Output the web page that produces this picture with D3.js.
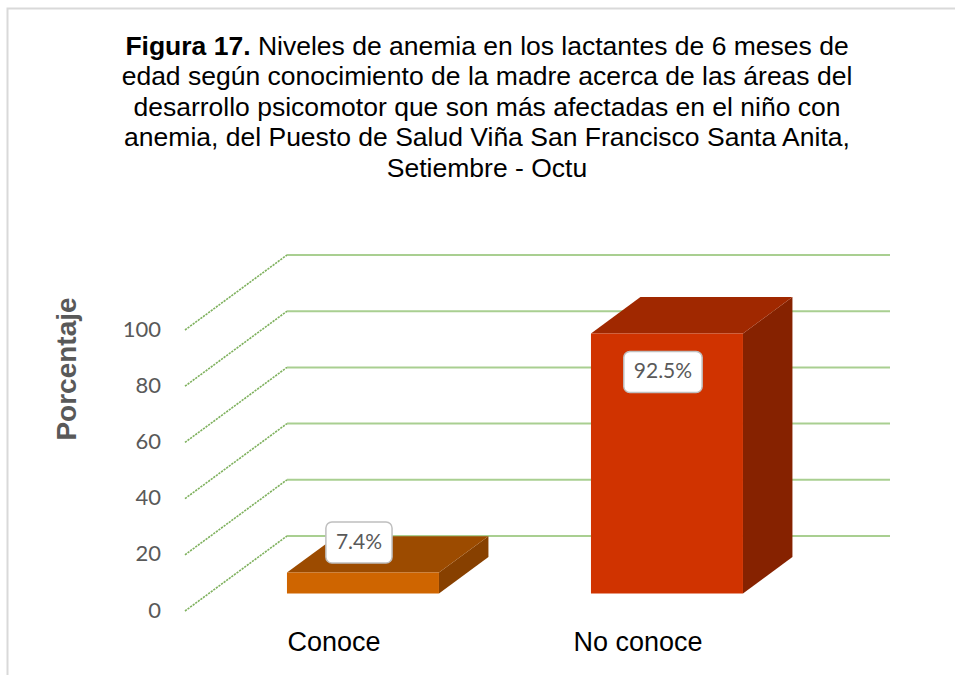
<!DOCTYPE html>
<html>
<head>
<meta charset="utf-8">
<script src="https://cdn.jsdelivr.net/npm/d3@7"></script>
<style>
  html, body { margin: 0; padding: 0; background: #fff; }
  svg { display: block; }
</style>
</head>
<body>
<svg id="chart" width="955" height="675"></svg>
<script>
// ---- data ----
const categories = ["Conoce", "No conoce"];
const values = [7.4, 92.5];
const valueLabels = ["7.4%", "92.5%"];
const yTicks = [0, 20, 40, 60, 80, 100];
const titleLines = [
  [["Figura 17.", true], [" Niveles de anemia en los lactantes de 6 meses de", false]],
  [["edad según conocimiento de la madre acerca de las áreas del", false]],
  [["desarrollo psicomotor que son más afectadas en el niño con", false]],
  [["anemia, del Puesto de Salud Viña San Francisco Santa Anita,", false]],
  [["Setiembre - Octu", false]]
];
const yTitle = "Porcentaje";
const frontColors = ["#cf6500", "#d03300"];
const topColors = ["#9c4b00", "#a02800"];
const sideColors = ["#874000", "#862200"];

// ---- layout ----
const svg = d3.select("#chart");
const frontLeft = 185, frontRight = 788;
const floorY = 611, topY = 330;
const depthDX = 102, depthDY = -75;
const d0 = 0.235, d1 = 0.72;

const y = d3.scaleLinear().domain([0, 100]).range([floorY, topY]);
const x = d3.scaleBand().domain(categories).range([187, 795])
  .paddingInner(0.5).paddingOuter(0.25);
const proj = (xf, v, d) => [xf + d * depthDX, y(v) + d * depthDY];

// border
svg.append("path")
  .attr("d", "M7.5,675 L7.5,8.5 L955,8.5")
  .attr("fill", "none").attr("stroke", "#d9d9d9").attr("stroke-width", 2);

// title
const title = svg.append("text")
  .attr("text-anchor", "middle")
  .attr("font-family", "Liberation Sans, Arial, sans-serif")
  .attr("font-size", 26.5)
  .attr("fill", "#000");
titleLines.forEach((line, i) => {
  const t = title.append("tspan").attr("x", 487).attr("y", 55 + i * 30.4);
  line.forEach(([txt, bold]) => {
    t.append("tspan").text(txt).attr("font-weight", bold ? "bold" : "normal");
  });
});

// gridlines (floor diagonal + back wall)
const grid = svg.append("g");
yTicks.forEach(t => {
  const a = proj(frontLeft, t, 0), b = proj(frontLeft, t, 1), c = proj(frontRight, t, 1);
  grid.append("line")
    .attr("x1", a[0]).attr("y1", a[1]).attr("x2", b[0]).attr("y2", b[1])
    .attr("stroke", "#7fb15e").attr("stroke-width", 1.6).attr("stroke-dasharray", "2.2,1");
  grid.append("line")
    .attr("x1", b[0]).attr("y1", b[1]).attr("x2", c[0]).attr("y2", c[1])
    .attr("stroke", "#a9cf91").attr("stroke-width", 2);
});

// y tick labels
svg.append("g").selectAll("text").data(yTicks).join("text")
  .attr("x", 161).attr("y", d => y(d) + 1)
  .attr("text-anchor", "end").attr("dominant-baseline", "middle")
  .attr("font-family", "Lato, Carlito, sans-serif").attr("font-size", 22)
  .attr("fill", "#595959")
  .text(d => d);

// y title
svg.append("text")
  .attr("transform", "translate(76,369) rotate(-90)")
  .attr("text-anchor", "middle")
  .attr("font-family", "Liberation Sans, Arial, sans-serif")
  .attr("font-weight", "bold").attr("font-size", 28)
  .attr("fill", "#595959")
  .text(yTitle);

// bars
const bars = svg.append("g");
categories.forEach((cat, i) => {
  const xl = x(cat), xr = x(cat) + x.bandwidth(), v = values[i];
  const pts = arr => arr.map(p => p.join(",")).join(" ");
  bars.append("polygon")
    .attr("points", pts([proj(xr, 0, d0), proj(xr, v, d0), proj(xr, v, d1), proj(xr, 0, d1)]))
    .attr("fill", sideColors[i]);
  bars.append("polygon")
    .attr("points", pts([proj(xl, v, d0), proj(xr, v, d0), proj(xr, v, d1), proj(xl, v, d1)]))
    .attr("fill", topColors[i]);
  bars.append("polygon")
    .attr("points", pts([proj(xl, 0, d0), proj(xr, 0, d0), proj(xr, v, d0), proj(xl, v, d0)]))
    .attr("fill", frontColors[i]);
});

// value labels
const labels = svg.append("g");
categories.forEach((cat, i) => {
  const v = values[i];
  const frontTop = proj(x(cat), v, d0)[1];
  const cx = proj(x(cat) + x.bandwidth() / 2, v, d0)[0] - 4;
  const cy = (y(0) - y(v)) < 60 ? frontTop - 30 : frontTop + 38.5;
  const g = labels.append("g");
  const rect = g.append("rect");
  const txt = g.append("text")
    .attr("x", cx).attr("y", cy + 1)
    .attr("text-anchor", "middle").attr("dominant-baseline", "middle")
    .attr("font-family", "Lato, Carlito, sans-serif").attr("font-size", 21)
    .attr("fill", "#595959")
    .text(valueLabels[i]);
  const w = txt.node().getComputedTextLength() + 20, h = 41;
  rect.attr("x", cx - w / 2).attr("y", cy - h / 2).attr("width", w).attr("height", h)
    .attr("rx", 6).attr("ry", 6)
    .attr("fill", "#fff").attr("stroke", "#bfbfbf").attr("stroke-width", 1.5);
});

// category labels
svg.append("g").selectAll("text").data(categories).join("text")
  .attr("x", d => x(d) + x.bandwidth() / 2 - 5)
  .attr("y", 651)
  .attr("text-anchor", "middle")
  .attr("font-family", "Liberation Sans, Arial, sans-serif")
  .attr("font-size", 27).attr("fill", "#000")
  .text(d => d);
</script>
</body>
</html>
